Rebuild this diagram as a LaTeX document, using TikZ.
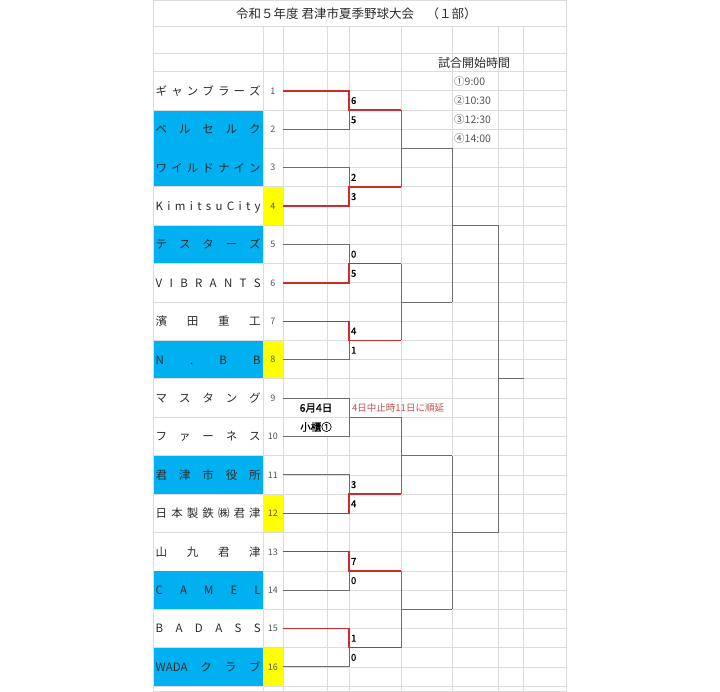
\documentclass[tikz,border=0pt]{standalone}
\usepackage{fontspec}
\setmainfont{Noto Sans CJK JP}
\newfontfamily\jpbold[FakeBold=0.9]{Noto Sans CJK JP}
\definecolor{gridc}{HTML}{DCDCDC}
\definecolor{bluec}{HTML}{00B0F0}
\definecolor{yelc}{HTML}{FFFF00}
\definecolor{linec}{HTML}{6E6E6E}
\definecolor{redc}{HTML}{D22A2A}
\definecolor{notec}{HTML}{C0504D}
\definecolor{txtc}{HTML}{2B2B2B}
\definecolor{numc}{HTML}{555555}
\tikzset{
  gridl/.style={draw=gridc, line width=0.8pt},
  gline/.style={draw=linec, line width=0.9pt},
  rline/.style={draw=redc, line width=1.5pt},
  tname/.style={anchor=base west, inner sep=0pt, font=\fontsize{11.5}{13}\selectfont, text=txtc},
  tnum/.style={anchor=base, inner sep=0pt, font=\fontsize{9}{10}\selectfont, text=numc},
  score/.style={anchor=base west, inner sep=0pt, font=\jpbold\fontsize{9.5}{11}\selectfont, text=black},
  timel/.style={anchor=base west, inner sep=0pt, font=\fontsize{10.5}{12}\selectfont, text=numc},
}
\newcommand\teamrow[2]{%
  \node[tname] (name#1) at (155.5,{90.9+38.4*(#1-1)+4.4}) {\hbox to 105pt{#2}};
  \node[tnum] (num#1) at (272.8,{90.9+38.4*(#1-1)+3.3}) {#1};}
\begin{document}
\begin{tikzpicture}[x=1pt,y=-1pt]
\useasboundingbox (0,0) rectangle (720,692);
\fill[white] (0,0) rectangle (720,692);
% ---- grid ----
\foreach \k in {0,2,...,32} { \draw[gridl] (153.3,{71.7+19.2*\k}) -- (566,{71.7+19.2*\k}); }
\foreach \k in {1,3,...,31} { \draw[gridl] (283,{71.7+19.2*\k}) -- (566,{71.7+19.2*\k}); }
\foreach \yy in {0.5,26.7,53.3,691} { \draw[gridl] (153.3,\yy) -- (566,\yy); }
\foreach \xx in {153.3,566} { \draw[gridl] (\xx,0.5) -- (\xx,692); }
\foreach \xx in {263,283,349,401,452,498,523.5} { \draw[gridl] (\xx,26.7) -- (\xx,692); }
\draw[gridl] (327,26.7) -- (327,398.1);
\draw[gridl] (327,436.5) -- (327,692);
% ---- fills ----
\foreach \i in {2,5,8,11,14,16} {
  \fill[bluec] (153.8,{71.7+38.4*(\i-1)+0.5}) rectangle (262.6,{71.7+38.4*\i-0.5}); }
\fill[bluec] (153.8,{71.7+38.4*2}) rectangle (262.6,{71.7+38.4*3-0.5});
\foreach \i in {4,8,12,16} {
  \fill[yelc] (263.4,{71.7+38.4*(\i-1)+0.5}) rectangle (282.6,{71.7+38.4*\i-0.5}); }
% ---- title & times ----
\node[anchor=base west, inner sep=0pt, font=\fontsize{12.5}{14}\selectfont, text=txtc] (title) at (236,18.6) {令和５年度 君津市夏季野球大会　（１部）};
\node[anchor=base west, inner sep=0pt, font=\fontsize{12}{14}\selectfont, text=txtc] (start) at (438,67.1) {試合開始時間};
\node[timel] (time1) at (454,{81.3+3.8}) {①9:00};
\node[timel] (time2) at (454,{100.5+3.8}) {②10:30};
\node[timel] (time3) at (454,{119.7+3.8}) {③12:30};
\node[timel] (time4) at (454,{138.9+3.8}) {④14:00};
% ---- teams ----
\teamrow{1}{ギ\hfill ャ\hfill ン\hfill ブ\hfill ラ\hfill ー\hfill ズ}
\teamrow{2}{ベ\hfill ル\hfill セ\hfill ル\hfill ク}
\teamrow{3}{ワ\hfill イ\hfill ル\hfill ド\hfill ナ\hfill イ\hfill ン}
\teamrow{4}{K\hfill i\hfill m\hfill i\hfill t\hfill s\hfill u\hfill C\hfill i\hfill t\hfill y}
\teamrow{5}{テ\hfill ス\hfill タ\hfill ー\hfill ズ}
\teamrow{6}{V\hfill I\hfill B\hfill R\hfill A\hfill N\hfill T\hfill S}
\teamrow{7}{濱\hfill 田\hfill 重\hfill 工}
\teamrow{8}{N\hfill .\hfill B\hfill B}
\teamrow{9}{マ\hfill ス\hfill タ\hfill ン\hfill グ}
\teamrow{10}{フ\hfill ァ\hfill ー\hfill ネ\hfill ス}
\teamrow{11}{君\hfill 津\hfill 市\hfill 役\hfill 所}
\teamrow{12}{日\hfill 本\hfill 製\hfill 鉄\hfill ㈱\hfill 君\hfill 津}
\teamrow{13}{山\hfill 九\hfill 君\hfill 津}
\teamrow{14}{C\hfill A\hfill M\hfill E\hfill L}
\teamrow{15}{B\hfill A\hfill D\hfill A\hfill S\hfill S}
\teamrow{16}{WADA\hfill ク\hfill ラ\hfill ブ}
% ---- bracket coordinates ----
\foreach \i in {1,...,16} { \coordinate (t\i) at (283,{90.9+38.4*(\i-1)}); }
\foreach \m in {1,...,8} {
  \coordinate (m\m) at (349,{110.1+76.8*(\m-1)});
  \coordinate (e\m) at (401,{110.1+76.8*(\m-1)}); }
\foreach \q in {1,...,4} {
  \coordinate (q\q) at (401,{148.5+153.6*(\q-1)});
  \coordinate (qe\q) at (452,{148.5+153.6*(\q-1)}); }
\foreach \s in {1,2} {
  \coordinate (s\s) at (452,{225.3+307.2*(\s-1)});
  \coordinate (se\s) at (498,{225.3+307.2*(\s-1)}); }
\coordinate (f) at (498,378.9);
\coordinate (fe) at (523.5,378.9);
% ---- grey bracket ----
\draw[gline] (e1) -- (e2);  \draw[gline] (q1) -- (qe1);
\draw[gline] (e3) -- (e4);  \draw[gline] (q2) -- (qe2);
\draw[gline] (e5) -- (e6);  \draw[gline] (q3) -- (qe3);
\draw[gline] (e7) -- (e8);  \draw[gline] (q4) -- (qe4);
\draw[gline] (qe1) -- (qe2); \draw[gline] (s1) -- (se1);
\draw[gline] (qe3) -- (qe4); \draw[gline] (s2) -- (se2);
\draw[gline] (se1) -- (se2); \draw[gline] (f) -- (fe);
\draw[gline] (t2) -| (m1);
\draw[gline] (t3) -| (m2);
\draw[gline] (t5) -| (m3);
\draw[gline] (t8) -| (m4);
\draw[gline] (t9) -| (m5) -- (e5);
\draw[gline] (t10) -| (m5);
\draw[gline] (t11) -| (m6);
\draw[gline] (t14) -| (m7);
\draw[gline] (t16) -| (m8);
% ---- red winners ----
\draw[rline] (t1) -| (m1) -- (e1);
\draw[rline] (t4) -| (m2) -- (e2);
\draw[rline] (t6) -| (m3) -- (e3);
\draw[rline] (t7) -| (m4) -- (e4);
\draw[rline] (t12) -| (m6) -- (e6);
\draw[rline] (t13) -| (m7) -- (e7);
\draw[rline] (t15) -| (m8) -- (e8);
% ---- scores ----
\foreach \m/\a/\b in {1/6/5,2/2/3,3/0/5,4/4/1,6/3/4,7/7/0,8/1/0} {
  \node[score] (sa\m) at (350.8,{110.1+76.8*(\m-1)-9.6+3.5}) {\a};
  \node[score] (sb\m) at (350.8,{110.1+76.8*(\m-1)+9.6+3.5}) {\b}; }
% ---- match 9-10 notes ----
\node[anchor=base, inner sep=0pt, font=\jpbold\fontsize{10.5}{12}\selectfont, text=black] (date) at (316,{407.7+4}) {6月4日};
\node[anchor=base, inner sep=0pt, font=\jpbold\fontsize{10.5}{12}\selectfont, text=black] (venue) at (316,{426.9+4}) {小櫃①};
\node[anchor=base west, inner sep=0pt, font=\fontsize{9.5}{11}\selectfont, text=notec] (note) at (352,{407.7+3.6}) {4日中止時11日に順延};
\end{tikzpicture}
\end{document}
